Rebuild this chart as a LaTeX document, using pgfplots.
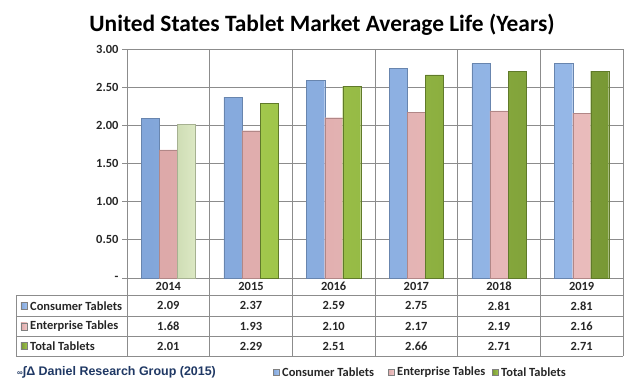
\documentclass[border=0pt]{standalone}
\usepackage{fontspec}
\setmainfont{Carlito}
\newfontfamily\arialfont{Liberation Sans}
\usepackage{pgfplots}
\pgfplotsset{compat=1.18}
\definecolor{gridc}{HTML}{8C8C8C}
\definecolor{blueM}{HTML}{A2C3F0}
\definecolor{blueE}{HTML}{82A6DA}
\definecolor{pinkM}{HTML}{F2C8C8}
\definecolor{pinkE}{HTML}{DDA9A9}
\definecolor{greenL}{HTML}{A2C84C}
\definecolor{greenD}{HTML}{789835}
\definecolor{paleG}{HTML}{E5F0CE}
\definecolor{paleGE}{HTML}{CFDDB5}
\definecolor{navy}{HTML}{1F3864}
\pgfplotstableread{
x cons ent tot
0 2.09 1.68 2.01
1 2.37 1.93 2.29
2 2.59 2.10 2.51
3 2.75 2.17 2.66
4 2.81 2.19 2.71
5 2.81 2.16 2.71
}\datatab
\begin{document}
\begin{tikzpicture}[x=1bp,y=1bp]
\path[use as bounding box] (-127,-109) rectangle (504,278);
\node[font=\bfseries\fontsize{23.5}{26}\selectfont, anchor=base] at (195,247) {United States Tablet Market Average Life (Years)};
\begin{axis}[
  at={(0,0)}, anchor=south west,
  scale only axis, width=496bp, height=229bp,
  xmin=-0.5, xmax=5.5, ymin=0, ymax=3,
  xtick={-0.5,0.5,1.5,2.5,3.5,4.5,5.5}, xticklabels={},
  ytick={0,0.5,1,1.5,2,2.5,3},
  yticklabels={-,0.50,1.00,1.50,2.00,2.50,3.00},
  xmajorgrids, ymajorgrids,
  grid style={gridc, line width=0.8bp},
  axis line style={gridc, line width=0.8bp},
  xtick style={draw=none},
  ytick style={gridc, line width=0.8bp},
  ytick pos=left, tick align=outside, major tick length=5bp,
  yticklabel style={font=\bfseries\fontsize{12.5}{14}\selectfont, text=black!85},
  /pgf/number format/assume math mode=true,
]
\addplot[ybar, bar width=0.218, bar shift=-0.218, draw=blueE!80!black, line width=0.3bp,
  left color=blueE, middle color=blueM, right color=blueE!40!blueM] table[x=x,y=cons] {\datatab};
\addplot[ybar, bar width=0.218, bar shift=0, draw=pinkE!80!black, line width=0.3bp,
  left color=pinkE, middle color=pinkM, right color=pinkE!40!pinkM] table[x=x,y=ent] {\datatab};
\addplot[ybar, bar width=0.218, bar shift=0.218, draw=paleGE!80!black, line width=0.3bp,
  left color=paleGE, middle color=paleG, right color=paleGE!40!paleG] coordinates {(0,2.01)};
\addplot[ybar, bar width=0.218, bar shift=0.218, draw=greenD!80!black, line width=0.3bp,
  left color=greenL, middle color=greenL!75!greenD, right color=greenD] coordinates {(1,2.29) (2,2.51) (3,2.66) (4,2.71) (5,2.71)};
\end{axis}
% data table
\begin{scope}[gridc, line width=0.8bp]
\foreach \k in {0,...,6} {\draw (82.667*\k,0) -- (82.667*\k,-78);}
\draw (-111,-17) -- (-111,-78);
\foreach \yy in {-17,-38.7,-58,-78} {\draw (-111,\yy) -- (496,\yy);}
\end{scope}
\begin{scope}[font=\bfseries\fontsize{12.5}{14}\selectfont, text=black!85]
\foreach \yr [count=\i from 0] in {2014,2015,2016,2017,2018,2019}
  \node at (82.667*\i+41.33,-8.5) {\yr};
\foreach \v [count=\i from 0] in {2.09,2.37,2.59,2.75,2.81,2.81}
  \node at (82.667*\i+41.33,-27.8) {\v};
\foreach \v [count=\i from 0] in {1.68,1.93,2.10,2.17,2.19,2.16}
  \node at (82.667*\i+41.33,-48.3) {\v};
\foreach \v [count=\i from 0] in {2.01,2.29,2.51,2.66,2.71,2.71}
  \node at (82.667*\i+41.33,-68) {\v};
\node[anchor=west, inner sep=0] at (-97,-27.8) {Consumer Tablets};
\node[anchor=west, inner sep=0] at (-97,-48.3) {Enterprise Tables};
\node[anchor=west, inner sep=0] at (-97,-68) {Total Tablets};
\end{scope}
\begin{scope}[line width=0.3bp]
\draw[gray, left color=blueE, right color=blueM] (-106,-31.3) rectangle (-99.5,-24.3);
\draw[gray, left color=pinkE, right color=pinkM] (-106,-51.8) rectangle (-99.5,-44.8);
\draw[gray, left color=greenD, right color=greenL] (-106,-71.5) rectangle (-99.5,-64.5);
\end{scope}
% footer
\node[anchor=west, inner sep=0, font=\arialfont\bfseries\fontsize{12.5}{14}\selectfont, text=navy] at (-110,-94) {{\fontsize{8}{8}\selectfont ∞}∫Δ Daniel Research Group (2015)};
% legend
\begin{scope}[line width=0.3bp]
\draw[gray, left color=blueE, right color=blueM] (146,-97.5) rectangle (152.5,-91);
\draw[gray, left color=pinkE, right color=pinkM] (261,-97.5) rectangle (267.5,-91);
\draw[gray, left color=greenD, right color=greenL] (365,-97.5) rectangle (371.5,-91);
\end{scope}
\begin{scope}[font=\bfseries\fontsize{12.5}{14}\selectfont, text=black!85]
\node[anchor=west, inner sep=0] at (155,-94) {Consumer Tablets};
\node[anchor=west, inner sep=0] at (270,-94) {Enterprise Tables};
\node[anchor=west, inner sep=0] at (374,-94) {Total Tablets};
\end{scope}
\end{tikzpicture}
\end{document}
